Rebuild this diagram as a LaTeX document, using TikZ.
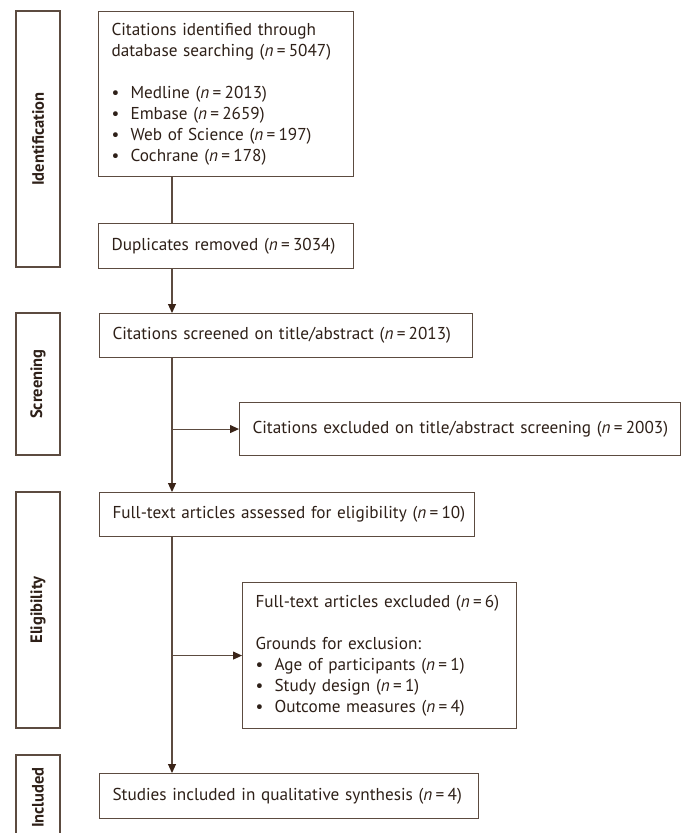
\documentclass[tikz,border=0pt]{standalone}
\usepackage{fontspec}
\setmainfont{PT Sans}
\usetikzlibrary{arrows.meta}
\definecolor{ln}{HTML}{5C4B40}
\definecolor{tx}{HTML}{2E2018}
\definecolor{ah}{HTML}{3A2418}
\newcommand{\bul}{\makebox[19pt][l]{\textbullet}}
\newcommand{\nq}[1]{\textit{n}\hspace{0.19em}=\hspace{0.19em}#1}
\newcommand{\oneline}[1]{\makebox[\linewidth][l]{#1}}
\begin{document}
\begin{tikzpicture}[x=1pt,y=-1pt,
  font=\fontsize{17.2}{21}\selectfont,
  box/.style={draw=ln, line width=1.1pt, anchor=north west, inner xsep=13pt, inner ysep=0pt, align=left, text=tx},
  stage/.style={draw=ln, line width=1.1pt, rotate=90, minimum height=44pt, inner sep=0pt, text=tx, font=\fontsize{16.5}{19}\selectfont\bfseries},
  conn/.style={draw=ln, line width=1.1pt},
  arr/.style={conn, -{Triangle[width=8pt,length=9pt,color=ah]}}]
\useasboundingbox (0,0) rectangle (681,833);
\fill[white] (0,0) rectangle (681,833);

% stage labels
\node[stage, minimum width=256pt] (sid) at (38,139) {Identification};
\node[stage, minimum width=142pt] (sscr) at (38,384) {Screening};
\node[stage, minimum width=236pt] (sel) at (38,610) {Eligibility};
\node[stage, minimum width=85pt] (sinc) at (38,797.5) {Included};

% boxes
\node[box, minimum width=255pt, minimum height=165pt, text width=229pt] (id) at (98,11)
 {\oneline{Citations identified through}\\
  \oneline{database searching (\nq{5047})}\\[21pt]
  \bul Medline (\nq{2013})\\
  \bul Embase (\nq{2659})\\
  \bul Web of Science (\nq{197})\\
  \bul Cochrane (\nq{178})};
\node[box, minimum width=255pt, minimum height=45pt, text width=229pt] (dup) at (98,223)
 {\oneline{Duplicates removed (\nq{3034})}};
\node[box, minimum width=373pt, minimum height=44pt, text width=347pt] (scr) at (99,313)
 {\oneline{Citations screened on title/abstract (\nq{2013})}};
\node[box, minimum width=441pt, minimum height=53pt, text width=415pt] (exc1) at (239,402)
 {\oneline{Citations excluded on title/abstract screening (\nq{2003})}};
\node[box, minimum width=375pt, minimum height=44pt, text width=349pt] (elig) at (99,492)
 {\oneline{Full-text articles assessed for eligibility (\nq{10})}};
\node[box, minimum width=274pt, minimum height=146pt, text width=248pt] (exc2) at (242,582)
 {\oneline{Full-text articles excluded (\nq{6})}\\[21pt]
  \oneline{Grounds for exclusion:}\\
  \oneline{\bul Age of participants (\nq{1})}\\
  \oneline{\bul Study design (\nq{1})}\\
  \oneline{\bul Outcome measures (\nq{4})}};
\node[box, minimum width=379pt, minimum height=45pt, text width=353pt] (inc) at (99,773)
 {\oneline{Studies included in qualitative synthesis (\nq{4})}};

% connectors
\coordinate (c) at (172,0);
\draw[conn] (id.south -| c) -- (dup.north -| c);
\draw[arr] (dup.south -| c) -- (scr.north -| c);
\draw[arr] (scr.south -| c) -- (elig.north -| c);
\draw[arr] (exc1.west -| c) -- (exc1.west);
\draw[arr] (elig.south -| c) -- (inc.north -| c);
\draw[arr] (exc2.west -| c) -- (exc2.west);
\end{tikzpicture}
\end{document}
